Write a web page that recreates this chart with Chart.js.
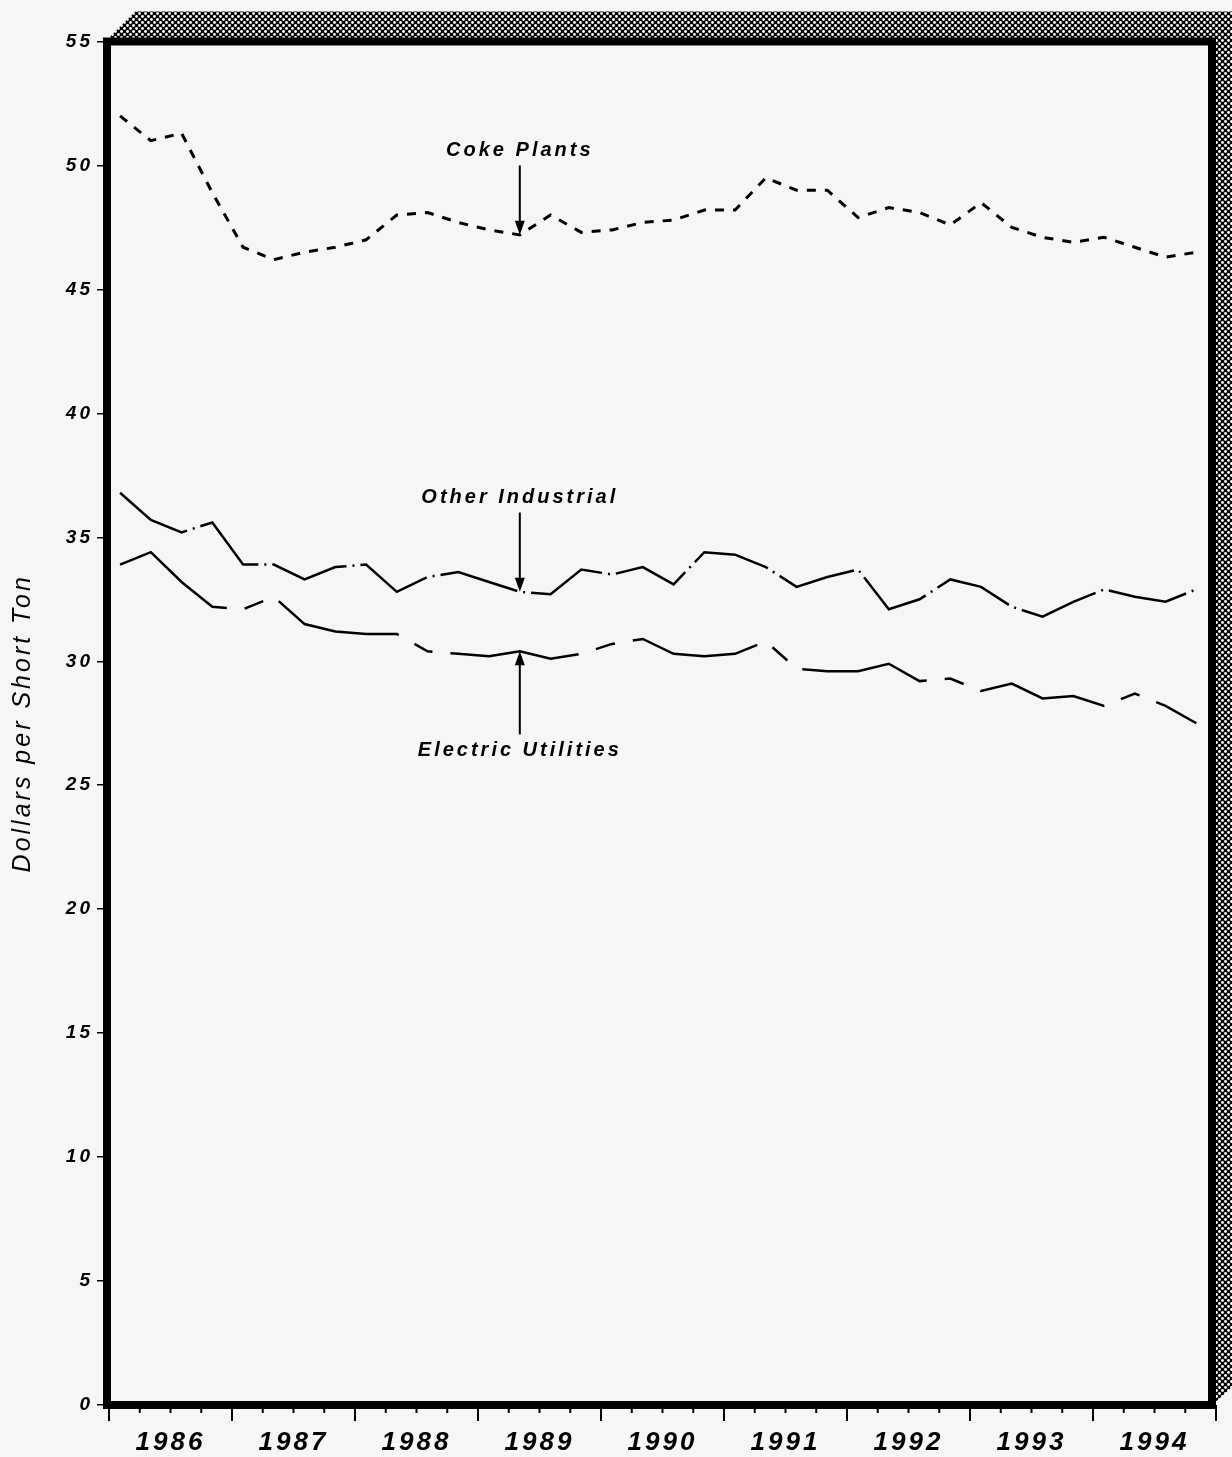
<!DOCTYPE html>
<html>
<head>
<meta charset="utf-8">
<title>Coal prices by consuming sector</title>
<script src="https://cdn.jsdelivr.net/npm/chart.js"></script>
<style>
  html, body { margin: 0; padding: 0; background: #f6f6f6; }
  #wrap { width: 1232px; height: 1457px; }
</style>
</head>
<body>
<div id="wrap"><canvas id="coalChart" width="1232" height="1457"></canvas></div>
<script>
// Quarterly observations, 1986 Q1 .. 1994 Q4 (dollars per short ton)
const yearLabels = ['1986', '1987', '1988', '1989', '1990', '1991', '1992', '1993', '1994'];
const quarters = yearLabels.flatMap((y) => [y + 'Q1', y + 'Q2', y + 'Q3', y + 'Q4']);

const cokePlants = [
  52.0, 51.0, 51.3, 48.9, 46.7, 46.2, 46.5, 46.7, 47.0, 48.0, 48.1, 47.7,
  47.4, 47.2, 48.0, 47.3, 47.4, 47.7, 47.8, 48.2, 48.2, 49.5, 49.0, 49.0,
  47.9, 48.3, 48.1, 47.6, 48.5, 47.5, 47.1, 46.9, 47.1, 46.7, 46.3, 46.5,
];
const otherIndustrial = [
  36.8, 35.7, 35.2, 35.6, 33.9, 33.9, 33.3, 33.8, 33.9, 32.8, 33.4, 33.6,
  33.2, 32.8, 32.7, 33.7, 33.5, 33.8, 33.1, 34.4, 34.3, 33.8, 33.0, 33.4,
  33.7, 32.1, 32.5, 33.3, 33.0, 32.2, 31.8, 32.4, 32.9, 32.6, 32.4, 32.9,
];
const electricUtilities = [
  33.9, 34.4, 33.2, 32.2, 32.1, 32.6, 31.5, 31.2, 31.1, 31.1, 30.4, 30.3,
  30.2, 30.4, 30.1, 30.3, 30.7, 30.9, 30.3, 30.2, 30.3, 30.8, 29.7, 29.6,
  29.6, 29.9, 29.2, 29.3, 28.8, 29.1, 28.5, 28.6, 28.2, 28.7, 28.2, 27.5,
];

// callout labels, all pointing at the 1989 Q2 observation
const callouts = [
  { text: 'Coke Plants', data: cokePlants, labelAt: 50.6, tailAt: 50.0 },
  { text: 'Other Industrial', data: otherIndustrial, labelAt: 36.6, tailAt: 36.0 },
  { text: 'Electric Utilities', data: electricUtilities, labelAt: 26.4, tailAt: 27.05 },
];
const calloutIndex = 13;

// each quarter is plotted a little after the quarter start, as in the printed chart
const quarterToX = (q) => Number(q.slice(0, 4)) + (Number(q.slice(5)) - 1) * 0.25 + 0.09;
const toPoints = (values) => values.map((v, i) => ({ x: quarterToX(quarters[i]), y: v }));

// dotted fill used for the raised edge of the box
const hatch = (() => {
  const c = document.createElement('canvas');
  c.width = 6;
  c.height = 6;
  const g = c.getContext('2d');
  g.fillStyle = '#000';
  g.fillRect(0, 0, 6, 6);
  g.fillStyle = '#fff';
  [[1.5, 1.5], [4.5, 4.5]].forEach(([x, y]) => {
    g.beginPath();
    g.arc(x, y, 1.4, 0, Math.PI * 2);
    g.fill();
  });
  return c;
})();

const boxPlugin = {
  id: 'box',
  beforeDraw(chart) {
    const { ctx, chartArea: a } = chart;
    ctx.save();
    ctx.fillStyle = '#f6f6f6';
    ctx.fillRect(0, 0, chart.width, chart.height);
    // top and right sides of the raised box
    const d = 30;
    ctx.beginPath();
    ctx.moveTo(a.left - 4, a.top);
    ctx.lineTo(a.left - 4 + d, a.top - d);
    ctx.lineTo(a.right + d, a.top - d);
    ctx.lineTo(a.right + d, a.bottom - d);
    ctx.lineTo(a.right - 4, a.bottom);
    ctx.lineTo(a.right - 4, a.top);
    ctx.closePath();
    ctx.fillStyle = ctx.createPattern(hatch, 'repeat');
    ctx.fill();
    ctx.restore();
    ctx.letterSpacing = '3px';
  },
  afterDraw(chart) {
    const { ctx, chartArea: a } = chart;
    const xs = chart.scales.x;
    const ys = chart.scales.y;
    ctx.save();
    ctx.letterSpacing = '0px';

    // heavy frame
    ctx.strokeStyle = '#000';
    ctx.lineWidth = 8;
    ctx.strokeRect(a.left - 2, a.top, a.right - a.left - 2, a.bottom - a.top);

    // year and quarter tick marks under the axis
    ctx.lineWidth = 2;
    for (let y = 1986; y <= 1995; y++) {
      for (let q = 0; q < 4; q++) {
        if (y === 1995 && q > 0) break;
        const px = xs.getPixelForValue(y + q * 0.25);
        ctx.beginPath();
        ctx.moveTo(px, a.bottom);
        ctx.lineTo(px, a.bottom + (q === 0 ? 16 : 8));
        ctx.stroke();
      }
    }

    // callouts
    ctx.fillStyle = '#000';
    ctx.font = 'italic bold 20px "Liberation Sans", Arial, sans-serif';
    ctx.letterSpacing = '3px';
    ctx.textAlign = 'center';
    ctx.textBaseline = 'middle';
    const px = xs.getPixelForValue(quarterToX(quarters[calloutIndex]));
    callouts.forEach((c) => {
      ctx.fillText(c.text, px, ys.getPixelForValue(c.labelAt));
      const y0 = ys.getPixelForValue(c.tailAt);
      const y1 = ys.getPixelForValue(c.data[calloutIndex]);
      const dir = Math.sign(y1 - y0);
      ctx.lineWidth = 2;
      ctx.beginPath();
      ctx.moveTo(px, y0);
      ctx.lineTo(px, y1 - dir * 10);
      ctx.stroke();
      ctx.beginPath();
      ctx.moveTo(px, y1);
      ctx.lineTo(px - 5, y1 - dir * 14);
      ctx.lineTo(px + 5, y1 - dir * 14);
      ctx.closePath();
      ctx.fill();
    });
    ctx.restore();
  },
};

const lineStyle = {
  borderColor: '#000',
  pointRadius: 0,
  tension: 0,
  fill: false,
  borderCapStyle: 'butt',
};

new Chart(document.getElementById('coalChart'), {
  type: 'line',
  data: {
    datasets: [
      { ...lineStyle, label: 'Coke Plants', data: toPoints(cokePlants), borderWidth: 3, borderDash: [9, 9] },
      { ...lineStyle, label: 'Other Industrial', data: toPoints(otherIndustrial), borderWidth: 2.5, borderDash: [80, 6, 2, 6] },
      { ...lineStyle, label: 'Electric Utilities', data: toPoints(electricUtilities), borderWidth: 2.5, borderDash: [130, 18, 20, 18] },
    ],
  },
  options: {
    responsive: false,
    animation: false,
    layout: { padding: { top: 41.5, right: 16, left: 0, bottom: 0 } },
    plugins: {
      legend: { display: false },
      tooltip: { enabled: false },
    },
    scales: {
      x: {
        type: 'linear',
        min: 1986,
        max: 1995,
        afterFit: (s) => { s.height = 1457 - 41.5 - 1363.5; },
        afterBuildTicks: (s) => { s.ticks = yearLabels.map((y) => ({ value: Number(y) + 0.5 })); },
        grid: { display: false, drawTicks: false },
        border: { display: false },
        ticks: {
          autoSkip: false,
          maxRotation: 0,
          padding: 22,
          color: '#000',
          font: { family: '"Liberation Sans", Arial, sans-serif', size: 26, style: 'italic', weight: 'bold' },
          callback: (v) => yearLabels[Math.floor(v) - 1986],
        },
      },
      y: {
        min: 0,
        max: 55,
        afterFit: (s) => { s.width = 109; },
        grid: { drawOnChartArea: false, drawTicks: true, tickLength: 12, color: '#000', lineWidth: 1.5 },
        border: { display: false },
        ticks: {
          stepSize: 5,
          padding: 4,
          color: '#000',
          font: { family: '"Liberation Sans", Arial, sans-serif', size: 19, style: 'italic', weight: 'bold' },
        },
        title: {
          display: true,
          text: 'Dollars per Short Ton',
          color: '#000',
          padding: { top: 8 },
          font: { family: '"Liberation Sans", Arial, sans-serif', size: 25, style: 'italic' },
        },
      },
    },
  },
  plugins: [boxPlugin],
});
</script>
</body>
</html>
